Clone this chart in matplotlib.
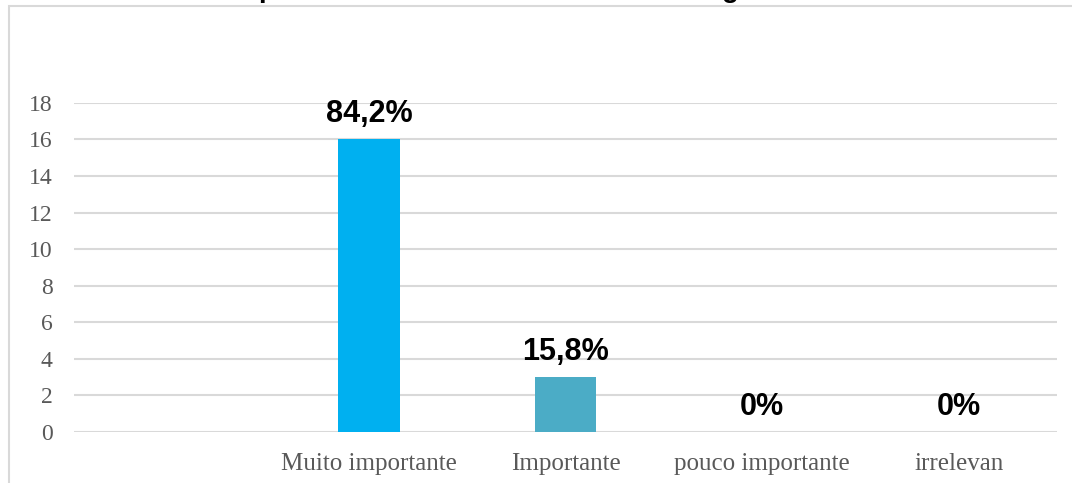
import matplotlib.pyplot as plt
from matplotlib.patches import Rectangle

# chart data
categories = ['', 'Muito importante', 'Importante', 'pouco importante', 'irrelevan']
counts = [0, 16, 3, 0, 0]
pct_labels = ['', '84,2%', '15,8%', '0%', '0%']
bar_colors = ['#00B0F0', '#00B0F0', '#4BACC6', '#4BACC6', '#4BACC6']
y_ticks = list(range(0, 20, 2))

fig = plt.figure(figsize=(10.72, 4.83), dpi=100)
ax = fig.add_axes([0.069, 0.1056, 0.917, 0.6815])

x = list(range(len(categories)))
ax.bar(x, counts, width=0.315, color=bar_colors, zorder=3)

# value labels above bars
for i, (v, lab) in enumerate(zip(counts, pct_labels)):
    if not lab:
        continue
    ax.annotate(lab, (i, v), xytext=(0, 12.5), textcoords='offset points',
                ha='center', va='baseline', fontsize=22, fontweight='bold',
                family='Liberation Sans', color='black')

ax.set_xlim(-0.5, len(categories) - 0.5)
ax.set_ylim(0, 18)
ax.set_yticks(y_ticks)
ax.set_xticks(x)
ax.set_xticklabels(categories)
ax.yaxis.grid(True, color='#D9D9D9', linewidth=1.5, zorder=0)
ax.set_axisbelow(True)
for s in ax.spines.values():
    s.set_visible(False)
ax.tick_params(axis='both', length=0, colors='#595959')
ax.tick_params(axis='y', pad=15.5, labelsize=17)
ax.tick_params(axis='x', pad=15, labelsize=18)
for t in ax.get_xticklabels() + ax.get_yticklabels():
    t.set_family('Liberation Serif')

# outer chart frame, cut at right/bottom edges
fig.patches.append(Rectangle((9 / 1072, -0.1), 1.2, 1.1 - 6 / 483,
                             transform=fig.transFigure, fill=False,
                             edgecolor='#D9D9D9', linewidth=1.5))

# title mostly cut off at the top of the image
fig.text(0.47, 1 + 3 / 483, 'Gráfico 5 – Importância do uso de ferramentas digitais no ensino',
         ha='center', va='baseline', fontsize=20, fontweight='bold',
         family='Liberation Sans')

fig.savefig('out.png', dpi=100)
